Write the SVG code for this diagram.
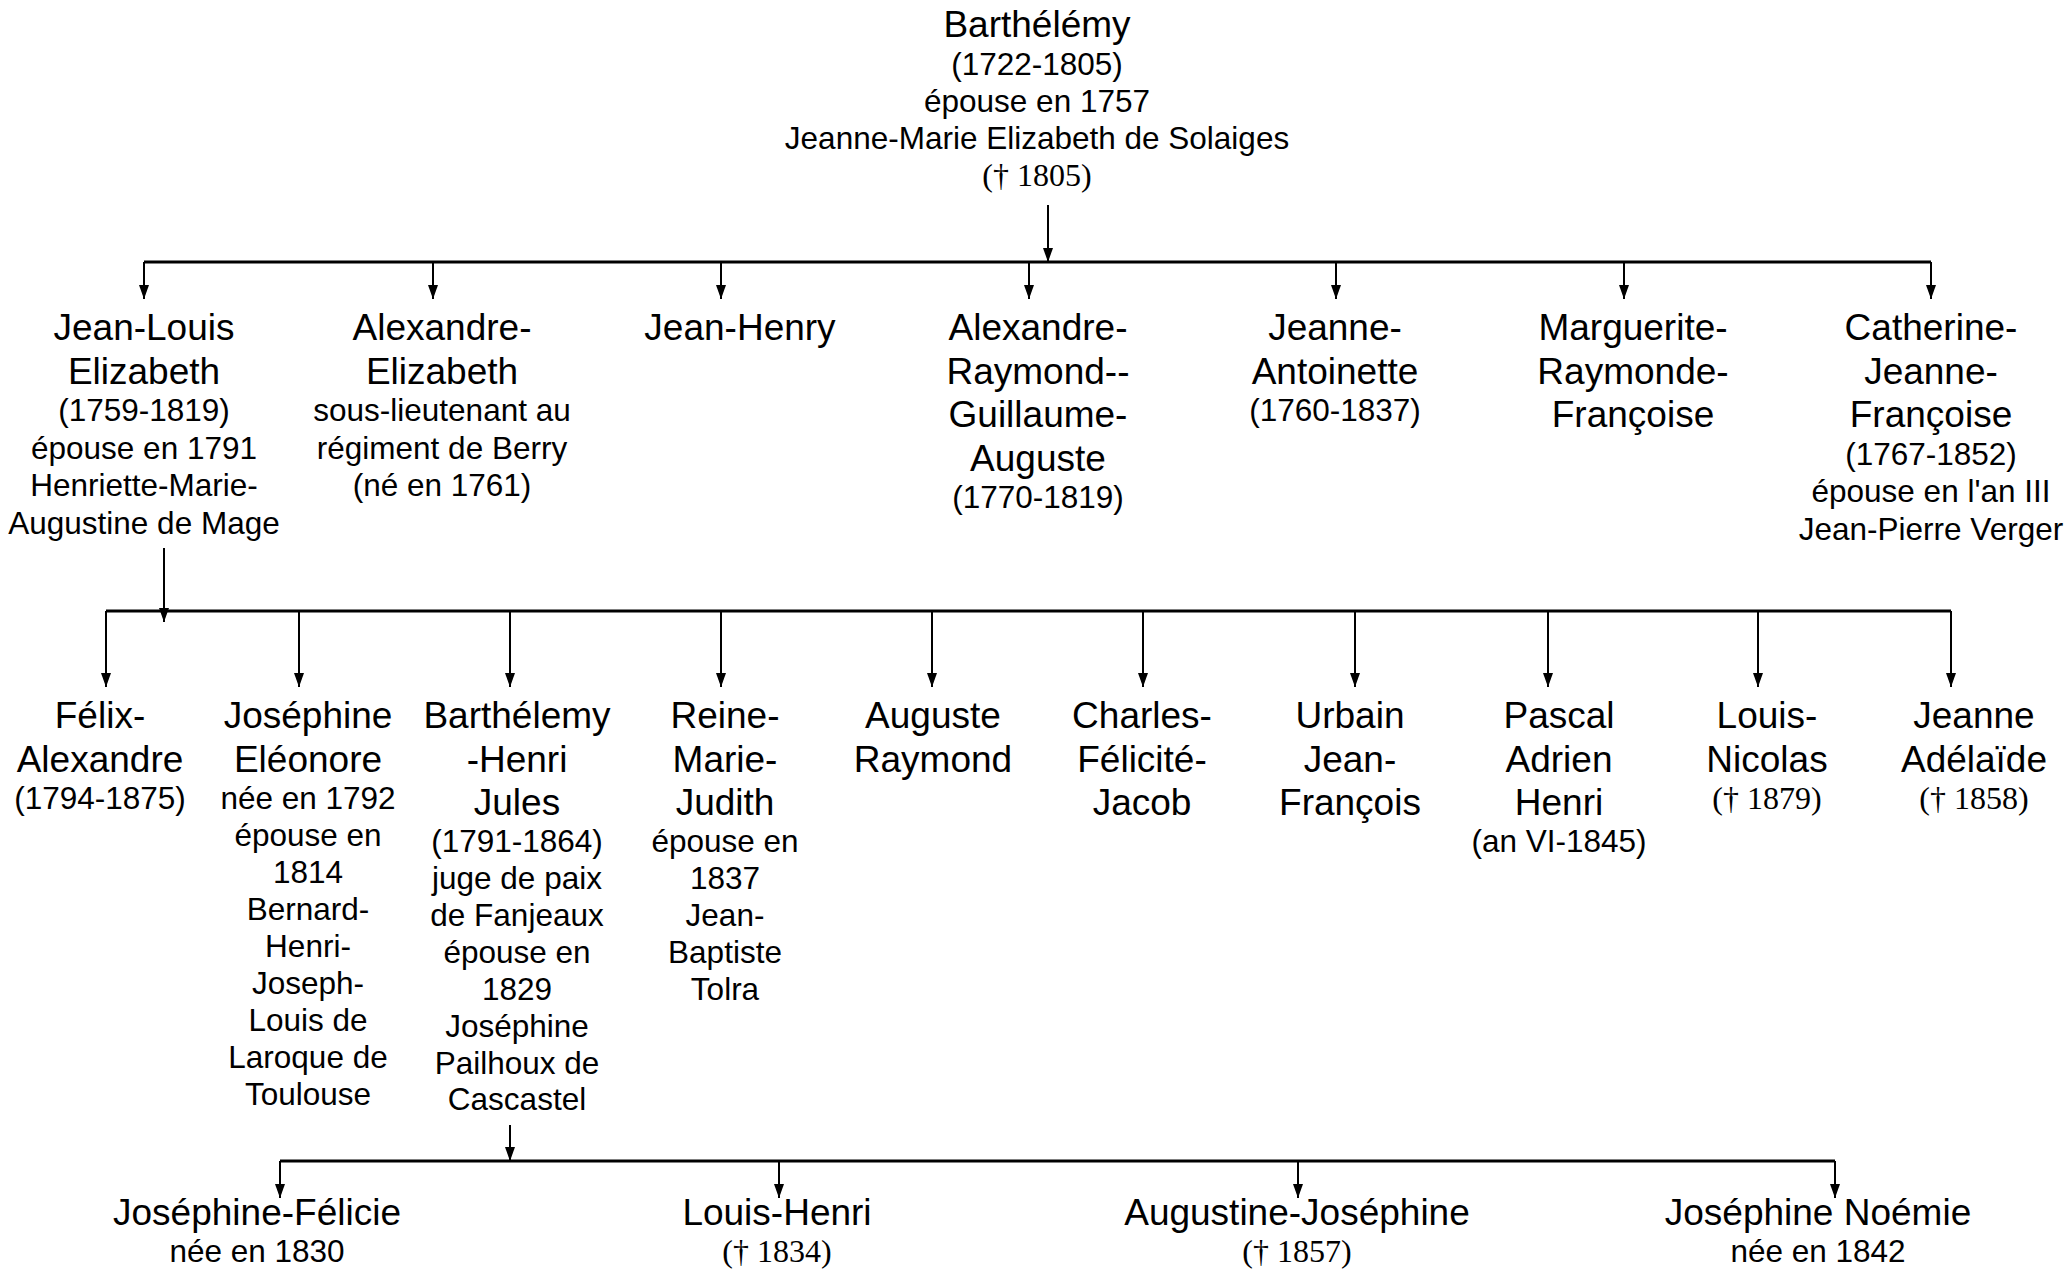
<svg xmlns="http://www.w3.org/2000/svg" width="2071" height="1270" viewBox="0 0 2071 1270">
<style>
text{text-anchor:middle;fill:#000}
.n{font-family:"Liberation Sans",Arial,sans-serif;font-size:37px}
.d{font-family:"Liberation Sans",Arial,sans-serif;font-size:31.5px}
.s{font-family:"Liberation Serif","Times New Roman",serif;font-size:32px}
.h{stroke:#000;stroke-width:3;fill:none}
.v{stroke:#000;stroke-width:2;fill:none;marker-end:url(#arr)}
</style>
<defs>
<marker id="arr" viewBox="0 -5 14 10" refX="14" refY="0" markerWidth="14" markerHeight="10" markerUnits="userSpaceOnUse" orient="auto">
<path d="M0,-5 L14,0 L0,5 z" fill="#000"/>
</marker>
</defs>
<rect width="2071" height="1270" fill="#fff"/>
<g id="connectors">
<line class="v" x1="1048" y1="205" x2="1048" y2="262"/>
<line class="h" x1="144" y1="262" x2="1931" y2="262"/>
<line class="v" x1="144" y1="262" x2="144" y2="299"/>
<line class="v" x1="433" y1="262" x2="433" y2="299"/>
<line class="v" x1="721" y1="262" x2="721" y2="299"/>
<line class="v" x1="1029" y1="262" x2="1029" y2="299"/>
<line class="v" x1="1336" y1="262" x2="1336" y2="299"/>
<line class="v" x1="1624" y1="262" x2="1624" y2="299"/>
<line class="v" x1="1931" y1="262" x2="1931" y2="299"/>
<line class="v" x1="164" y1="548" x2="164" y2="622"/>
<line class="h" x1="106" y1="611" x2="1951" y2="611"/>
<line class="v" x1="106" y1="611" x2="106" y2="687"/>
<line class="v" x1="299" y1="611" x2="299" y2="687"/>
<line class="v" x1="510" y1="611" x2="510" y2="687"/>
<line class="v" x1="721" y1="611" x2="721" y2="687"/>
<line class="v" x1="932" y1="611" x2="932" y2="687"/>
<line class="v" x1="1143" y1="611" x2="1143" y2="687"/>
<line class="v" x1="1355" y1="611" x2="1355" y2="687"/>
<line class="v" x1="1548" y1="611" x2="1548" y2="687"/>
<line class="v" x1="1758" y1="611" x2="1758" y2="687"/>
<line class="v" x1="1951" y1="611" x2="1951" y2="687"/>
<line class="v" x1="510" y1="1125" x2="510" y2="1161"/>
<line class="h" x1="280" y1="1161" x2="1835" y2="1161"/>
<line class="v" x1="280" y1="1161" x2="280" y2="1198"/>
<line class="v" x1="779" y1="1161" x2="779" y2="1198"/>
<line class="v" x1="1298" y1="1161" x2="1298" y2="1198"/>
<line class="v" x1="1835" y1="1161" x2="1835" y2="1198"/>
</g>
<g id="barthelemy">
<text class="n" x="1037" y="37">Barthélémy</text>
<text class="d" x="1037" y="75">(1722-1805)</text>
<text class="d" x="1037" y="112">épouse en 1757</text>
<text class="d" x="1037" y="149">Jeanne-Marie Elizabeth de Solaiges</text>
<text class="s" x="1037" y="186">(† 1805)</text>
</g>
<g id="jean-louis">
<text class="n" x="144" y="340">Jean-Louis</text>
<text class="n" x="144" y="383.5">Elizabeth</text>
<text class="d" x="144" y="421">(1759-1819)</text>
<text class="d" x="144" y="458.5">épouse en 1791</text>
<text class="d" x="144" y="496">Henriette-Marie-</text>
<text class="d" x="144" y="533.5">Augustine de Mage</text>
</g>
<g id="alexandre-elizabeth">
<text class="n" x="442" y="340">Alexandre-</text>
<text class="n" x="442" y="383.5">Elizabeth</text>
<text class="d" x="442" y="421">sous-lieutenant au</text>
<text class="d" x="442" y="458.5">régiment de Berry</text>
<text class="d" x="442" y="496">(né en 1761)</text>
</g>
<g id="jean-henry">
<text class="n" x="740" y="340">Jean-Henry</text>
</g>
<g id="alexandre-raymond">
<text class="n" x="1038" y="340">Alexandre-</text>
<text class="n" x="1038" y="383.5">Raymond--</text>
<text class="n" x="1038" y="427">Guillaume-</text>
<text class="n" x="1038" y="470.5">Auguste</text>
<text class="d" x="1038" y="508">(1770-1819)</text>
</g>
<g id="jeanne-antoinette">
<text class="n" x="1335" y="340">Jeanne-</text>
<text class="n" x="1335" y="383.5">Antoinette</text>
<text class="d" x="1335" y="421">(1760-1837)</text>
</g>
<g id="marguerite">
<text class="n" x="1633" y="340">Marguerite-</text>
<text class="n" x="1633" y="383.5">Raymonde-</text>
<text class="n" x="1633" y="427">Françoise</text>
</g>
<g id="catherine">
<text class="n" x="1931" y="340">Catherine-</text>
<text class="n" x="1931" y="383.5">Jeanne-</text>
<text class="n" x="1931" y="427">Françoise</text>
<text class="d" x="1931" y="464.5">(1767-1852)</text>
<text class="d" x="1931" y="502">épouse en l'an III</text>
<text class="d" x="1931" y="539.5">Jean-Pierre Verger</text>
</g>
<g id="felix-alexandre">
<text class="n" x="100" y="728">Félix-</text>
<text class="n" x="100" y="771.5">Alexandre</text>
<text class="d" x="100" y="808.5">(1794-1875)</text>
</g>
<g id="josephine-eleonore">
<text class="n" x="308" y="728">Joséphine</text>
<text class="n" x="308" y="771.5">Eléonore</text>
<text class="d" x="308" y="808.5">née en 1792</text>
<text class="d" x="308" y="845.5">épouse en</text>
<text class="d" x="308" y="882.5">1814</text>
<text class="d" x="308" y="919.5">Bernard-</text>
<text class="d" x="308" y="956.5">Henri-</text>
<text class="d" x="308" y="993.5">Joseph-</text>
<text class="d" x="308" y="1030.5">Louis de</text>
<text class="d" x="308" y="1067.5">Laroque de</text>
<text class="d" x="308" y="1104.5">Toulouse</text>
</g>
<g id="barthelemy-henri-jules">
<text class="n" x="517" y="728">Barthélemy</text>
<text class="n" x="517" y="771.5">-Henri</text>
<text class="n" x="517" y="815">Jules</text>
<text class="d" x="517" y="852">(1791-1864)</text>
<text class="d" x="517" y="889">juge de paix</text>
<text class="d" x="517" y="926">de Fanjeaux</text>
<text class="d" x="517" y="963">épouse en</text>
<text class="d" x="517" y="1000">1829</text>
<text class="d" x="517" y="1037">Joséphine</text>
<text class="d" x="517" y="1074">Pailhoux de</text>
<text class="d" x="517" y="1110">Cascastel</text>
</g>
<g id="reine-marie-judith">
<text class="n" x="725" y="728">Reine-</text>
<text class="n" x="725" y="771.5">Marie-</text>
<text class="n" x="725" y="815">Judith</text>
<text class="d" x="725" y="852">épouse en</text>
<text class="d" x="725" y="889">1837</text>
<text class="d" x="725" y="926">Jean-</text>
<text class="d" x="725" y="963">Baptiste</text>
<text class="d" x="725" y="1000">Tolra</text>
</g>
<g id="auguste-raymond">
<text class="n" x="933" y="728">Auguste</text>
<text class="n" x="933" y="771.5">Raymond</text>
</g>
<g id="charles-felicite-jacob">
<text class="n" x="1142" y="728">Charles-</text>
<text class="n" x="1142" y="771.5">Félicité-</text>
<text class="n" x="1142" y="815">Jacob</text>
</g>
<g id="urbain-jean-francois">
<text class="n" x="1350" y="728">Urbain</text>
<text class="n" x="1350" y="771.5">Jean-</text>
<text class="n" x="1350" y="815">François</text>
</g>
<g id="pascal-adrien-henri">
<text class="n" x="1559" y="728">Pascal</text>
<text class="n" x="1559" y="771.5">Adrien</text>
<text class="n" x="1559" y="815">Henri</text>
<text class="d" x="1559" y="852">(an VI-1845)</text>
</g>
<g id="louis-nicolas">
<text class="n" x="1767" y="728">Louis-</text>
<text class="n" x="1767" y="771.5">Nicolas</text>
<text class="s" x="1767" y="808.5">(† 1879)</text>
</g>
<g id="jeanne-adelaide">
<text class="n" x="1974" y="728">Jeanne</text>
<text class="n" x="1974" y="771.5">Adélaïde</text>
<text class="s" x="1974" y="808.5">(† 1858)</text>
</g>
<g id="josephine-felicie">
<text class="n" x="257" y="1225">Joséphine-Félicie</text>
<text class="d" x="257" y="1262">née en 1830</text>
</g>
<g id="louis-henri">
<text class="n" x="777" y="1225">Louis-Henri</text>
<text class="s" x="777" y="1262">(† 1834)</text>
</g>
<g id="augustine-josephine">
<text class="n" x="1297" y="1225">Augustine-Joséphine</text>
<text class="s" x="1297" y="1262">(† 1857)</text>
</g>
<g id="josephine-noemie">
<text class="n" x="1818" y="1225">Joséphine Noémie</text>
<text class="d" x="1818" y="1262">née en 1842</text>
</g>
</svg>
